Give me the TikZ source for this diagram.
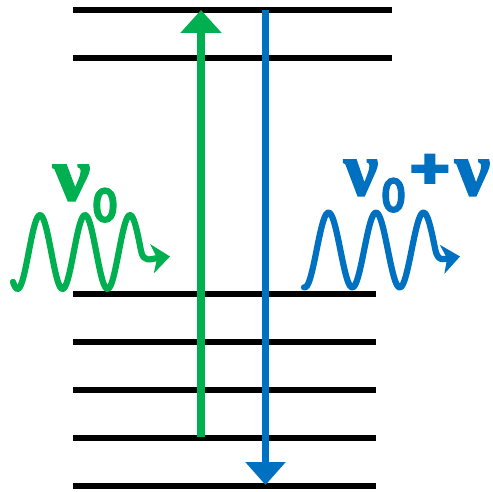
\documentclass[tikz,border=0pt]{standalone}
\usepackage{fontspec}
\newfontfamily\carl[FakeBold=2.5]{Carlito}
\newfontfamily\carlplus[FakeBold=5]{Carlito}
\newfontfamily\nufont[FakeBold=2.5]{Liberation Serif}
\usetikzlibrary{arrows.meta}
\definecolor{pgreen}{HTML}{00B050}
\definecolor{pblue}{HTML}{0070C0}
\tikzset{
  level/.style={line width=5.2pt, black},
  transup/.style={line width=7.5pt, pgreen, -{Triangle[length=23pt,width=40pt]}},
  transdown/.style={line width=7.5pt, pblue, -{Triangle[length=23pt,width=39pt]}},
  wave/.style={line width=6.2pt, line cap=round, line join=round, -{Stealth[length=18pt,width=29pt,inset=5pt]}},
  lbl/.style={inner sep=0pt, outer sep=0pt, anchor=north west}
}
\newcommand{\nuglyph}{{\nufont\bfseries ν}}
\newcommand{\zeroglyph}{{\carl\bfseries 0}}
\begin{document}
\begin{tikzpicture}[x=1pt,y=-1pt]
\useasboundingbox (0,0) rectangle (493,492);
% level end points
\coordinate (u1l) at (73,10);  \coordinate (u1r) at (392,10);
\coordinate (u2l) at (73,58);  \coordinate (u2r) at (392,58);
\coordinate (l1l) at (73,294); \coordinate (l1r) at (376,294);
\coordinate (l2l) at (73,342); \coordinate (l2r) at (376,342);
\coordinate (l3l) at (73,390); \coordinate (l3r) at (376,390);
\coordinate (l4l) at (73,438); \coordinate (l4r) at (376,438);
\coordinate (l5l) at (73,486); \coordinate (l5r) at (376,486);
\foreach \n in {u1,u2,l1,l2,l3,l4,l5} \draw[level] (\n l) -- (\n r);
% transitions
\coordinate (gs) at (201,437); \coordinate (ge) at (201,10);
\coordinate (bs) at (265.5,10); \coordinate (be) at (265.5,485);
\draw[transup] (gs) -- (ge);
\draw[transdown] (bs) -- (be);
% waves
\coordinate (gtip) at (170,256.5);
\coordinate (btip) at (460,256.5);
\draw[wave, pgreen] plot[domain=13:141, samples=90, smooth] (\x, {252-37*cos(8*(\x-40))})
  .. controls (143.5,263) and (150,259) .. (gtip);
\draw[wave, pblue] plot[domain=304:435.4, samples=90, smooth] (\x, {250-37.5*cos(7.5789*(\x-376))})
  .. controls (438,262) and (444,259) .. (btip);
% labels
\node[lbl, pgreen] (gnu) at (53,165) {\resizebox{37pt}{35pt}{\nuglyph}};
\node[lbl, pgreen] (gzero) at (93,188) {\resizebox{24pt}{34pt}{\zeroglyph}};
\node[lbl, pblue] (bnu) at (344,160) {\resizebox{34pt}{35pt}{\nuglyph}};
\node[lbl, pblue] (bzero) at (382,178) {\resizebox{23pt}{34pt}{\zeroglyph}};
\node[lbl, pblue] (bplus) at (412,155) {\resizebox{36pt}{32pt}{{\carlplus\bfseries +}}};
\node[lbl, pblue] (bnu2) at (455,160) {\resizebox{35pt}{35pt}{\nuglyph}};
\end{tikzpicture}
\end{document}
